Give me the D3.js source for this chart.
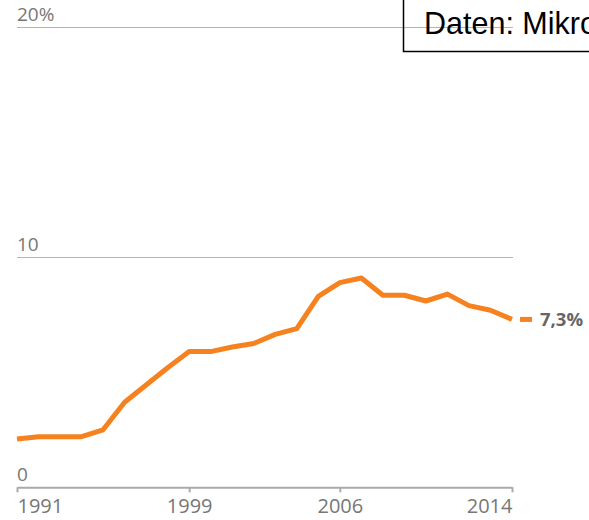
<!DOCTYPE html>
<html>
<head>
<meta charset="utf-8">
<script src="https://cdn.jsdelivr.net/npm/d3@7"></script>
<style>
  body { margin: 0; background: #fff; }
  svg { display: block; }
</style>
</head>
<body>
<div id="chart"></div>
<script>
// values, in percent
var years = [1991, 1992, 1993, 1994, 1995, 1996, 1997, 1998, 1999, 2000, 2001, 2002,
             2003, 2004, 2005, 2006, 2007, 2008, 2009, 2010, 2011, 2012, 2013, 2014];
var values = [2.1, 2.2, 2.2, 2.2, 2.5, 3.7, 4.45, 5.2, 5.9, 5.9, 6.1, 6.25,
              6.65, 6.9, 8.3, 8.9, 9.1, 8.35, 8.35, 8.1, 8.4, 7.9, 7.7, 7.3];
var yTicks = [0, 10, 20];
var yTickLabels = ["0", "10", "20%"];
var xTicks = [1991, 1999, 2006, 2014];
var endLabel = "7,3%";
var source = "Daten: Mikrozensus";

var data = years.map(function (y, i) { return { year: y, value: values[i] }; });

var w = 589, h = 520;
var svg = d3.select("#chart").append("svg")
    .attr("width", w)
    .attr("height", h);

var x = d3.scaleLinear()
    .domain([1991, 2014])
    .range([17, 512]);

var y = d3.scaleLinear()
    .domain([0, 20])
    .range([487.3, 27.3]);

var grey = "#777";
var font = "'Open Sans', 'DejaVu Sans', sans-serif";

// grid lines (not at zero, the axis draws that one)
svg.selectAll(".grid")
    .data(yTicks.filter(function (d) { return d > 0; }))
    .enter()
    .append("line")
    .attr("class", "grid")
    .attr("x1", x(1991))
    .attr("x2", x(2014) + 1)
    .attr("y1", function (d) { return Math.round(y(d)) + 0.5; })
    .attr("y2", function (d) { return Math.round(y(d)) + 0.5; })
    .style("stroke", "#b4b4b4")
    .style("stroke-width", 1);

svg.selectAll(".ylab")
    .data(yTicks)
    .enter()
    .append("text")
    .attr("class", "ylab")
    .attr("x", x(1991))
    .attr("y", function (d) { return y(d) - 6; })
    .text(function (d, i) { return yTickLabels[i]; })
    .style("font-family", font)
    .style("font-size", "19px")
    .style("fill", grey);

// x axis
var xAxis = d3.axisBottom(x)
    .tickValues(xTicks)
    .tickFormat(d3.format("d"))
    .tickSize(5)
    .tickSizeOuter(0);

var gx = svg.append("g")
    .attr("transform", "translate(0," + y(0) + ")")
    .call(xAxis);

gx.select(".domain")
    .style("stroke", "#aaa")
    .style("stroke-width", 2);
gx.selectAll(".tick line")
    .style("stroke", "#aaa")
    .style("stroke-width", 2);
gx.selectAll(".tick text")
    .attr("y", 12)
    .attr("dy", "0.71em")
    .style("font-family", font)
    .style("font-size", "20px")
    .style("fill", grey)
    .attr("text-anchor", function (d, i) {
        return i === 0 ? "start" : (i === xTicks.length - 1 ? "end" : "middle");
    });

// the line
var line = d3.line()
    .x(function (d) { return x(d.year); })
    .y(function (d) { return y(d.value); });

svg.append("path")
    .datum(data)
    .attr("d", line)
    .style("fill", "none")
    .style("stroke", "#f5821f")
    .style("stroke-width", 5)
    .style("stroke-linejoin", "round");

var last = data[data.length - 1];

svg.append("line")
    .attr("x1", x(last.year) + 8)
    .attr("x2", x(last.year) + 20)
    .attr("y1", y(last.value))
    .attr("y2", y(last.value))
    .style("stroke", "#f5821f")
    .style("stroke-width", 5);

svg.append("text")
    .attr("x", x(last.year) + 28)
    .attr("y", y(last.value) + 7)
    .text(endLabel)
    .style("font-family", font)
    .style("font-size", "18.5px")
    .style("font-weight", "bold")
    .style("fill", "#666");

// source box, clipped at the right edge
svg.append("rect")
    .attr("x", 403.5)
    .attr("y", -10)
    .attr("width", 300)
    .attr("height", 61.5)
    .style("fill", "none")
    .style("stroke", "#000")
    .style("stroke-width", 1.5);

svg.append("text")
    .attr("x", 424)
    .attr("y", 34)
    .text(source)
    .style("font-family", "'Liberation Sans', Arial, sans-serif")
    .style("font-size", "30.5px")
    .style("fill", "#000");
</script>
</body>
</html>
